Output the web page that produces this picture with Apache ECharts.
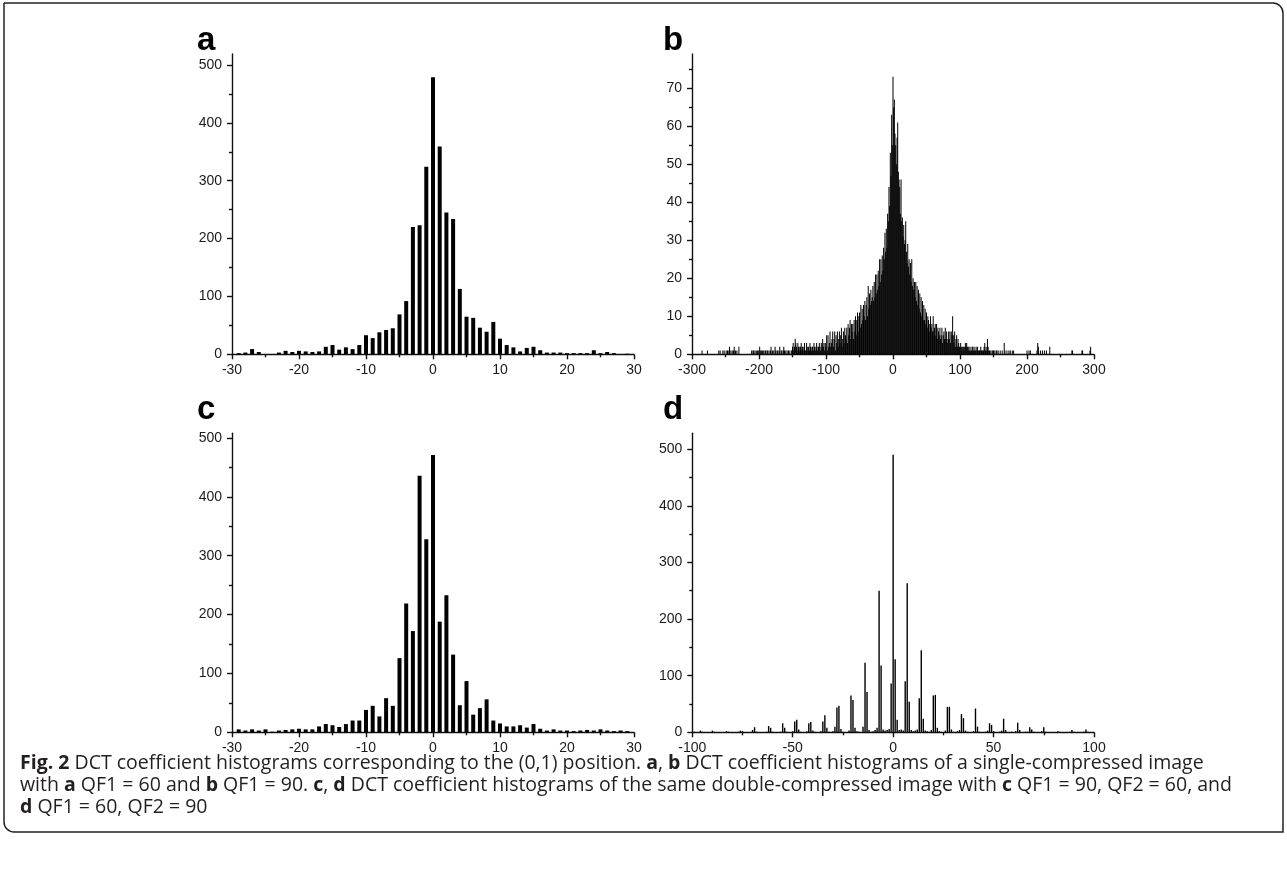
<!DOCTYPE html>
<html><head><meta charset="utf-8">
<script src="https://cdn.jsdelivr.net/npm/echarts@6/dist/echarts.min.js"></script>
<style>html,body{margin:0;padding:0;background:#fff}#c{width:1287px;height:883px}</style>
</head><body><div id="c"></div>
<script>
// ---- bins (coefficient values) ----
const binsAC = []; for (let v = -30; v <= 30; v++) binsAC.push(v);
const binsB = []; for (let v = -300; v <= 300; v++) binsB.push(v);
const binsD = []; for (let v = -100; v <= 100; v++) binsD.push(v);

// ---- panel a: single compressed, QF1 = 60 (counts for -30..30) ----
const countsA = [0,2,3,9,4,0,0,3,6,4, 6,5,4,5,13,16,8,12,9,16, 33,28,38,42,45,69,92,220,223,324,
  479, 359,245,234,113,65,63,46,39,56,27, 16,12,5,11,13,7,3,3,3,2, 2,2,2,7,2,4,2,0,1,0];

// ---- panel b: single compressed, QF1 = 90 (counts for -300..300) ----
const countsB = [
  0,0,0,0,0,0,0,0,0,0, 0,0,0,0,0,1,0,0,0,0, 0,0,0,1,0,0,0,0,0,0, 0,0,0,0,0,0,0,0,0,0,
  1,0,1,0,0,0,1,0,1,0, 0,1,0,1,1,0,2,0,1,0, 1,0,1,2,0,1,0,1,0,0, 2,0,0,0,0,0,0,0,0,0,
  0,0,0,0,0,0,0,0,0,1, 0,1,1,0,1,0,1,0,1,1, 0,2,1,0,1,1,0,1,0,1, 1,0,1,1,0,1,0,1,2,0,
  1,0,1,0,2,1,0,1,1,0, 1,2,0,1,1,0,1,2,1,0, 1,0,1,0,1,1,0,0,1,1, 2,3,1,2,4,3,2,1,3,2,
  2,1,2,3,1,2,1,2,3,1, 1,3,2,1,2,1,3,2,1,2, 2,1,3,2,1,2,3,1,2,2, 3,2,1,3,2,4,2,3,1,3,
  2,5,1,5,2,3,6,2,3,4, 6,2,4,6,1,5,3,6,2,4, 6,3,5,7,2,4,6,3,7,5, 4,7,3,8,5,7,9,4,8,6,
  8,4,9,6,10,5,9,11,6,10, 11,7,13,8,12,9,13,10,14,9, 13,15,10,18,12,16,13,17,14,15,
  18,14,19,15,21,16,21,17,22,18, 25,19,25,21,26,22,28,25,32,27, 33,28,37,35,44,39,53,47,63,55,
  73,65,67,58,55,50,57,61,48,46, 44,37,46,35,36,31,34,29,30,35, 27,24,29,23,25,21,24,19,25,18,
  20,17,19,15,19,14,18,13,17,12, 16,11,15,10,14,9,13,9,12,8, 11,7,10,9,8,6,10,7,8,6,
  10,6,7,8,5,8,4,7,6,5, 7,4,5,7,3,5,6,4,7,4, 6,3,4,6,4,6,3,6,5,10, 5,3,6,2,4,5,2,4,3,2,
  2,3,2,1,2,2,1,2,3,2, 3,2,1,2,1,2,1,1,2,2, 1,2,1,1,2,1,2,1,1,1, 1,2,1,1,1,1,2,3,1,2,
  1,4,2,1,1,0,1,0,1,1, 1,0,1,0,1,1,0,1,0,0, 1,0,0,1,0,0,3,1,0,0, 1,0,0,1,0,1,0,0,1,0,
  1,0,0,0,0,0,0,0,0,0, 0,0,0,0,0,0,0,0,0,0, 1,0,0,1,0,1,0,0,0,0, 0,0,0,0,0,1,3,2,0,0,
  1,0,0,1,0,0,1,0,0,1, 0,0,0,0,2,0,0,0,0,0, 0,0,0,0,0,0,0,0,0,0, 0,0,0,0,0,0,0,0,0,0,
  0,0,0,0,0,0,0,1,1,0, 0,0,0,0,0,0,0,0,0,0, 0,0,1,1,0,0,0,0,0,0, 0,0,0,0,1,2,0,0,0,0,
  0];

// ---- panel c: double compressed, QF1 = 90, QF2 = 60 (counts for -30..30) ----
const countsC = [0,5,3,5,3,5,1,3,4,5, 6,5,5,10,14,12,9,14,20,20, 38,45,27,58,45,126,219,172,436,328,
  471, 188,233,132,46,87,30,41,56,20,15, 10,10,12,8,14,6,3,5,3,3, 2,3,4,3,5,3,2,3,2,0];

// ---- panel d: double compressed, QF1 = 60, QF2 = 90 (counts for -100..100) ----
const countsD = [
  0,1,0,0,3,1,0,0,0,0, 3,1,0,0,0,0,0,2,1,0, 0,0,0,1,3,2,0,0,0,0, 4,9,1,0,0,0,0,1,11,8,
  1,0,0,0,1,16,8,1,0,0, 2,19,22,5,1,0,0,2,16,18, 3,1,0,0,2,19,30,8,1,0, 2,10,44,47,6,1,0,0,3,65,
  57,8,2,1,0,10,123,71,4,1, 2,4,8,250,118,5,3,4,6,86,
  490,129,22,4,5,3,90,263,54,4, 2,3,5,60,145,24,3,2,1,4, 65,66,8,2,1,0,3,45,45,5, 1,0,2,4,32,25,3,1,0,0,
  2,42,10,1,0,0,1,3,16,13, 2,0,0,1,3,24,4,0,0,1, 0,2,17,4,0,0,1,1,9,5, 1,0,0,0,2,9,1,0,0,0,
  0,0,2,1,0,0,0,0,1,4, 1,0,0,0,0,1,5,1,0,0, 0];

// ---- tick values ----
const yTicksACD = [0, 100, 200, 300, 400, 500];
const yMinorACD = [50, 150, 250, 350, 450];
const yTicksB = [0, 10, 20, 30, 40, 50, 60, 70];
const yMinorB = [5, 15, 25, 35, 45, 55, 65, 75];

const panelLetters = ['a', 'b', 'c', 'd'];
const captionLines = [
  '{b|Fig. 2} DCT coefficient histograms corresponding to the (0,1) position. {b|a}, {b|b} DCT coefficient histograms of a single-compressed image',
  'with {b|a} QF1 = 60 and {b|b} QF1 = 90. {b|c}, {b|d} DCT coefficient histograms of the same double-compressed image with {b|c} QF1 = 90, QF2 = 60, and',
  '{b|d} QF1 = 60, QF2 = 90'
];

// ---- build chart ----
const FONT = 'Liberation Sans, Arial, Helvetica, sans-serif';
const CAPFONT = 'Open Sans, Noto Sans, sans-serif';
const INK = '#111';
const lineS = { color: INK, width: 1.4 };

function xAx(gi, min, max, interval) {
  return {
    type: 'value', gridIndex: gi, min: min, max: max, interval: interval,
    axisLine: { show: true, onZero: false, lineStyle: lineS },
    axisTick: { show: true, inside: false, length: 5, lineStyle: lineS },
    minorTick: { show: true, splitNumber: 2, length: 3, lineStyle: lineS },
    axisLabel: { show: true, margin: 9, fontSize: 14, color: '#1a1a1a', fontFamily: FONT, hideOverlap: false },
    splitLine: { show: false }, minorSplitLine: { show: false }
  };
}
function yAx(gi, max, ticks) {
  return {
    type: 'value', gridIndex: gi, min: 0, max: max, position: 'left',
    axisLine: { show: true, onZero: false, lineStyle: lineS },
    axisTick: { show: true, inside: false, length: 5, lineStyle: lineS, customValues: ticks },
    axisLabel: { show: true, margin: 10, fontSize: 14, color: '#1a1a1a', fontFamily: FONT, customValues: ticks },
    splitLine: { show: false }
  };
}
function yMinor(gi, max, ticks) {
  return {
    type: 'value', gridIndex: gi, min: 0, max: max, position: 'left', offset: 0,
    axisLine: { show: false, onZero: false },
    axisTick: { show: true, inside: false, length: 3, lineStyle: lineS, customValues: ticks },
    axisLabel: { show: false },
    splitLine: { show: false }
  };
}
function pairs(bins, counts) { return bins.map((x, i) => [x, counts[i]]); }

const chart = echarts.init(document.getElementById('c'), null, { renderer: 'canvas' });
const graphics = [
  { type: 'rect', shape: { x: 4, y: 3, width: 1279, height: 829, r: [0, 10, 0, 10] },
    style: { fill: 'none', stroke: '#222', lineWidth: 1.5 }, silent: true }
];
const letterPos = [[197, 41], [663, 41], [197, 410], [663, 410]];
panelLetters.forEach((t, i) => graphics.push({
  type: 'text', x: letterPos[i][0], y: letterPos[i][1],
  style: { text: t, fontSize: 33, fontWeight: 'bold', fontFamily: FONT, fill: '#000', verticalAlign: 'middle' }
}));
captionLines.forEach((t, i) => graphics.push({
  type: 'text', x: 20, y: 763 + i * 22,
  style: {
    text: t, fontSize: 19.5, fontFamily: CAPFONT, fill: '#231f20', verticalAlign: 'middle',
    rich: { b: { fontSize: 19.5, fontWeight: 'bold', fontFamily: CAPFONT, fill: '#231f20' } }
  }
}));

chart.setOption({
  animation: false,
  backgroundColor: '#fff',
  grid: [
    { left: 232, top: 54, width: 402, height: 300.3 },
    { left: 692, top: 54, width: 402, height: 300.3 },
    { left: 232, top: 433.3, width: 402, height: 299 },
    { left: 692.3, top: 433.3, width: 401.7, height: 299 }
  ],
  xAxis: [xAx(0, -30, 30, 10), xAx(1, -300, 300, 100), xAx(2, -30, 30, 10), xAx(3, -100, 100, 50)],
  yAxis: [yAx(0, 519, yTicksACD), yAx(1, 79, yTicksB), yAx(2, 508, yTicksACD), yAx(3, 528, yTicksACD),
          yMinor(0, 519, yMinorACD), yMinor(1, 79, yMinorB), yMinor(2, 508, yMinorACD), yMinor(3, 528, yMinorACD)],
  series: [
    { type: 'bar', xAxisIndex: 0, yAxisIndex: 0, data: pairs(binsAC, countsA), barWidth: 4, itemStyle: { color: '#000' }, silent: true },
    { type: 'bar', xAxisIndex: 1, yAxisIndex: 1, data: pairs(binsB, countsB), barWidth: 0.75, itemStyle: { color: '#000' }, silent: true },
    { type: 'bar', xAxisIndex: 2, yAxisIndex: 2, data: pairs(binsAC, countsC), barWidth: 4, itemStyle: { color: '#000' }, silent: true },
    { type: 'bar', xAxisIndex: 3, yAxisIndex: 3, data: pairs(binsD, countsD), barWidth: 1.4, itemStyle: { color: '#000' }, silent: true }
  ],
  graphic: graphics
});
</script></body></html>
